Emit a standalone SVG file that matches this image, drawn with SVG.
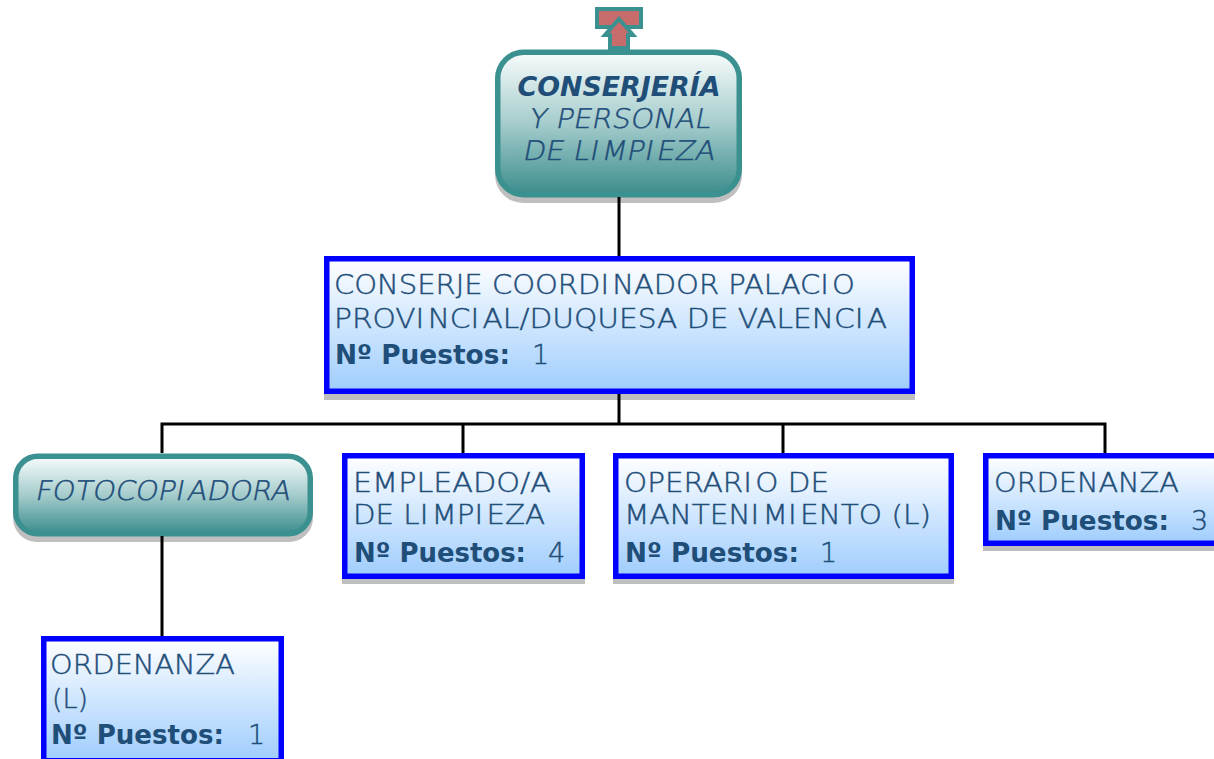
<svg xmlns="http://www.w3.org/2000/svg" width="1214" height="759" viewBox="0 0 1214 759">
<style>
text{font-family:"DejaVu Sans",Verdana,sans-serif;font-size:27px;font-weight:200;fill:#1f4e79;stroke:#1f4e79;stroke-width:.45}
text.b{font-weight:bold;stroke:none}
.i{font-style:italic}
.c{text-anchor:middle}
.box{fill:url(#blue);stroke:#0000ff;stroke-width:5.500}
.rnd{fill:url(#teal);stroke:#3b9090;stroke-width:5.500}
.sh{fill:#bfbfbf}
.ln{fill:none;stroke:#000;stroke-width:3}
</style>
<defs>
<linearGradient id="blue" x1="0" y1="0" x2="0" y2="1"><stop offset="0" stop-color="#fff"/><stop offset="1" stop-color="#9fcdfd"/></linearGradient>
<linearGradient id="teal" x1="0" y1="0" x2="0" y2="1"><stop offset="0" stop-color="#f8fcfc"/><stop offset="0.5" stop-color="#a5cccc"/><stop offset="1" stop-color="#3b8c8c"/></linearGradient>
</defs>
<rect width="1214" height="759" fill="#fff"/>
<g id="up-arrow">
<rect x="597" y="9" width="44" height="18" fill="#c76b6b" stroke="#3b9090" stroke-width="4"/>
<path d="M619 19L633 35H628V48H610V35H605Z" fill="#c76b6b" stroke="#3b9090" stroke-width="4"/>
</g>
<g id="conserjeria">
<rect class="sh" x="495" y="55" width="247" height="148" rx="28"/>
<rect class="rnd" x="497.750" y="52.250" width="241.500" height="142.500" rx="26"/>
<text class="b i c" x="619" y="96" textLength="203" lengthAdjust="spacingAndGlyphs">CONSERJERÍA</text>
<text class="c" transform="translate(619 128) skewX(-11)" textLength="182" lengthAdjust="spacingAndGlyphs">Y PERSONAL</text>
<text class="c" transform="translate(618 160) skewX(-11)" textLength="192" lengthAdjust="spacingAndGlyphs">DE LI<tspan dx="3">MPI</tspan><tspan dx="3">EZA</tspan></text>
</g>
<g id="conserje-coordinador">
<rect class="sh" x="324" y="262" width="591" height="138"/>
<rect class="box" x="326.750" y="258.750" width="585.500" height="132.500"/>
<text x="334" y="294" textLength="521" lengthAdjust="spacingAndGlyphs">CONSERJE COORDI<tspan dx="3">NADOR PALACI</tspan><tspan dx="3">O</tspan></text>
<text x="334" y="328" textLength="553" lengthAdjust="spacingAndGlyphs">PROVI<tspan dx="3">NCI</tspan><tspan dx="3">AL/DUQUESA DE VALENCI</tspan><tspan dx="3">A</tspan></text>
<text class="b" x="335" y="364" textLength="175" lengthAdjust="spacingAndGlyphs">Nº Puestos:</text>
<text x="532" y="364">1</text>
</g>
<g id="fotocopiadora">
<rect class="sh" x="13" y="459" width="300" height="83" rx="24"/>
<rect class="rnd" x="15.750" y="456.250" width="294.500" height="77.500" rx="22"/>
<text class="c" transform="translate(162 500) skewX(-11)" textLength="255" lengthAdjust="spacingAndGlyphs">FOTOCOPI<tspan dx="3">ADORA</tspan></text>
</g>
<g id="empleado">
<rect class="sh" x="342" y="459" width="243" height="125"/>
<rect class="box" x="344.750" y="455.750" width="237.500" height="120.500"/>
<text x="353" y="492" textLength="198" lengthAdjust="spacingAndGlyphs">EMPLEADO/A</text>
<text x="353" y="524" textLength="192" lengthAdjust="spacingAndGlyphs">DE LI<tspan dx="3">MPI</tspan><tspan dx="3">EZA</tspan></text>
<text class="b" x="354" y="562" textLength="172" lengthAdjust="spacingAndGlyphs">Nº Puestos:</text>
<text x="548" y="562">4</text>
</g>
<g id="operario">
<rect class="sh" x="613" y="459" width="341" height="125"/>
<rect class="box" x="615.750" y="455.750" width="335.500" height="120.500"/>
<text x="624" y="492" textLength="205" lengthAdjust="spacingAndGlyphs">OPERARI<tspan dx="3">O DE</tspan></text>
<text x="624" y="524" textLength="307" lengthAdjust="spacingAndGlyphs">MANTENI<tspan dx="3">MI</tspan><tspan dx="3">ENTO (L)</tspan></text>
<text class="b" x="625" y="562" textLength="174" lengthAdjust="spacingAndGlyphs">Nº Puestos:</text>
<text x="820" y="562">1</text>
</g>
<g id="ordenanza">
<rect class="sh" x="983" y="459" width="231" height="92"/>
<rect class="box" x="985.750" y="455.750" width="240" height="87.500"/>
<text x="994" y="492" textLength="185" lengthAdjust="spacingAndGlyphs">ORDENANZA</text>
<text class="b" x="995" y="530" textLength="174" lengthAdjust="spacingAndGlyphs">Nº Puestos:</text>
<text x="1191" y="530">3</text>
</g>
<g id="ordenanza-l">
<rect class="box" x="43.750" y="638.750" width="237.500" height="122"/>
<text x="50" y="674" textLength="185" lengthAdjust="spacingAndGlyphs">ORDENANZA</text>
<text x="52" y="708">(L)</text>
<text class="b" x="51" y="744" textLength="173" lengthAdjust="spacingAndGlyphs">Nº Puestos:</text>
<text x="248" y="744">1</text>
</g>
<g id="connectors">
<path class="ln" d="M619 197V256M619 394V424M162 453V424H1105V453M463 424V453M783 424V453M162 536V636"/>
</g>
</svg>
